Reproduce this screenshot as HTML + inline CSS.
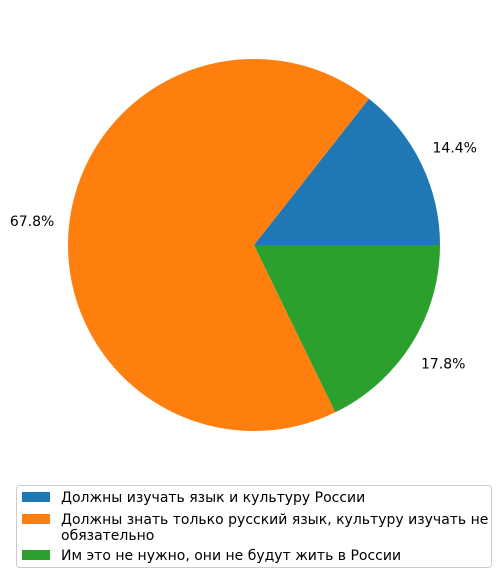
<!DOCTYPE html>
<html><head><meta charset="utf-8"><style>
body{margin:0;background:#fff;font-family:"Liberation Sans","DejaVu Sans",sans-serif;}
</style></head><body>
<svg id="chart" width="501" height="578" viewBox="0 0 501 578" font-family="DejaVu Sans, Liberation Sans, sans-serif">
<g id="slices"></g>
<g id="labels" font-size="14" fill="#000"></g>
<g>
<rect x="16.5" y="485.5" width="475" height="82" rx="3" fill="#fff" stroke="#ccc"/>
<g id="legend-items" font-size="14" fill="#000"></g>
</g>
</svg>
<script>
const categories=["Должны изучать язык и культуру России","Должны знать только русский язык, культуру изучать не|обязательно","Им это не нужно, они не будут жить в России"];
const values=[14.4,67.8,17.8];
const colors=["#1f77b4","#ff7f0e","#2ca02c"];
const NS="http://www.w3.org/2000/svg";
const cx=254,cy=245,r=186;
const total=values.reduce((a,b)=>a+b,0);
const sl=document.getElementById('slices'),lb=document.getElementById('labels'),lg=document.getElementById('legend-items');
let a0=0;
values.forEach((v,i)=>{
  const a1=a0+v/total*2*Math.PI;
  const x0=cx+r*Math.cos(a0),y0=cy-r*Math.sin(a0),x1=cx+r*Math.cos(a1),y1=cy-r*Math.sin(a1);
  const large=(a1-a0)>Math.PI?1:0;
  const p=document.createElementNS(NS,'path');
  p.setAttribute('d',`M${cx},${cy} L${x0},${y0} A${r},${r} 0 ${large} 0 ${x1},${y1} Z`);
  p.setAttribute('fill',colors[i]);
  
  
  sl.appendChild(p);
  const am=(a0+a1)/2;
  const lx=cx+1.2*r*Math.cos(am),ly=cy-1.2*r*Math.sin(am);
  const t=document.createElementNS(NS,'text');
  t.setAttribute('x',lx);t.setAttribute('y',ly+5);
  t.setAttribute('text-anchor','middle');
  t.textContent=v.toFixed(1)+'%';
  
  
  lb.appendChild(t);
  a0=a1;
});
const ys=[497,519,555];
categories.forEach((c,i)=>{
  const y=ys[i];
  const rc=document.createElementNS(NS,'rect');
  rc.setAttribute('x',22);rc.setAttribute('y',y-5);rc.setAttribute('width',28);rc.setAttribute('height',10);
  rc.setAttribute('fill',colors[i]);
  
  
  lg.appendChild(rc);
  c.split('|').forEach((line,k)=>{
    const t=document.createElementNS(NS,'text');
    t.setAttribute('x',61);t.setAttribute('y',y+5+k*16);
    t.textContent=line;
    
    
    lg.appendChild(t);
  });
});
</script>
</body></html>
